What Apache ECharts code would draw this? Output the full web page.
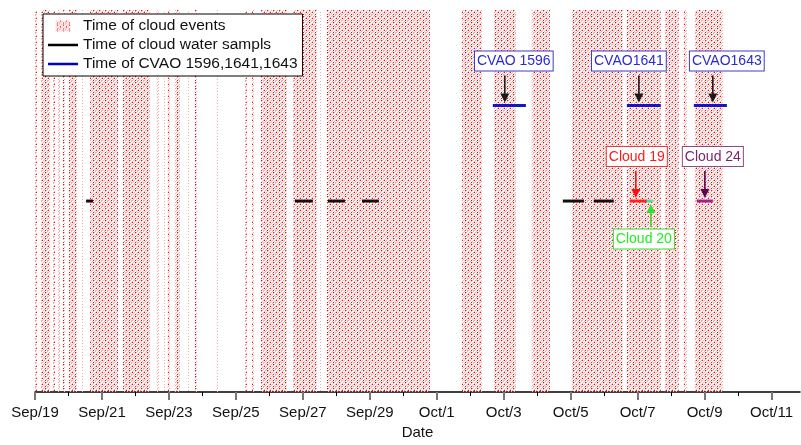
<!DOCTYPE html>
<html>
<head>
<meta charset="utf-8">
<script src="https://cdn.jsdelivr.net/npm/echarts@6/dist/echarts.min.js"></script>
<style>
  html, body { margin: 0; padding: 0; background: #fff; }
  #chart { width: 801px; height: 445px; }
</style>
</head>
<body>
<div id="chart"></div>
<script>
// ---- Data (2017 campaign, times in UTC, "MM-DD HH:mm") ----
const YEAR = 2017;

// Cloud events: start / end
const cloudEventStarts = [
  '09-19 00:00', '09-19 04:18', '09-19 12:54', '09-19 16:30', '09-19 20:06',
  '09-20 00:24', '09-20 09:42', '09-20 15:24', '09-21 15:06', '09-22 15:24',
  '09-22 20:24', '09-22 23:12', '09-23 04:18', '09-23 13:42', '09-23 18:42',
  '09-24 10:24', '09-25 06:30', '09-25 11:30', '09-25 18:00', '09-26 16:54',
  '09-27 12:18', '09-27 17:18', '10-01 18:00', '10-02 17:00', '10-03 20:12',
  '10-05 00:54', '10-06 16:18', '10-07 19:30', '10-08 09:06', '10-08 17:00'
];
const cloudEventEnds = [
  '09-19 01:24', '09-19 10:45', '09-19 14:18', '09-19 17:54', '09-19 21:30',
  '09-20 06:06', '09-20 10:24', '09-21 11:30', '09-22 10:24', '09-22 16:54',
  '09-22 21:12', '09-23 00:42', '09-23 07:54', '09-23 14:24', '09-23 20:06',
  '09-24 11:12', '09-25 07:54', '09-25 13:00', '09-26 12:36', '09-27 10:06',
  '09-27 13:00', '09-30 19:06', '10-02 08:24', '10-03 08:42', '10-04 09:06',
  '10-06 13:24', '10-07 16:36', '10-08 05:30', '10-08 11:18', '10-09 13:06'
];

// Cloud water samples
const sampleStarts = ['09-20 12:36', '09-26 18:18', '09-27 18:00', '09-28 18:24', '10-04 18:24', '10-05 16:36'];
const sampleEnds   = ['09-20 17:36', '09-27 07:12', '09-28 06:12', '09-29 06:30', '10-05 09:30', '10-06 06:54'];

// Highlighted cloud water samples
const namedSampleLabels = ['Cloud 19', 'Cloud 20', 'Cloud 24'];
const namedSampleStarts = ['10-06 18:24', '10-07 06:36', '10-08 18:24'];
const namedSampleEnds   = ['10-07 06:36', '10-07 10:54', '10-09 05:54'];

// CVAO sampling periods
const cvaoStarts = ['10-02 16:12', '10-06 16:18', '10-08 16:18'];
const cvaoEnds   = ['10-03 15:54', '10-07 16:36', '10-09 16:00'];

// Callouts: label, time pointed at, level pointed at
const calloutLabels = ['CVAO 1596', 'CVAO1641', 'CVAO1643', 'Cloud 19', 'Cloud 24', 'Cloud 20'];
const calloutTimes  = ['10-03 00:48', '10-07 00:54', '10-09 05:54', '10-06 22:42', '10-09 00:12', '10-07 09:30'];
const calloutLevels = [0.75, 0.75, 0.75, 0.5, 0.5, 0.5];

// Levels on the hidden y scale
const SAMPLE_LEVEL = 0.5;
const CVAO_LEVEL = 0.75;

// Axis range and ticks
const axisStart = '09-19 00:00';
const axisEnd = '10-11 20:24';
const labelDays = ['09-19', '09-21', '09-23', '09-25', '09-27', '09-29', '10-01', '10-03', '10-05', '10-07', '10-09', '10-11'];
const minorDays = ['09-20', '09-22', '09-24', '09-26', '09-28', '09-30', '10-02', '10-04', '10-06', '10-08', '10-10'];

// ---- Helpers ----
function ts(s) {
  const [d, hm] = s.split(' ');
  const [mo, da] = d.split('-').map(Number);
  const [h, m] = (hm || '00:00').split(':').map(Number);
  return Date.UTC(YEAR, mo - 1, da, h, m);
}
const MONTHS = ['Jan', 'Feb', 'Mar', 'Apr', 'May', 'Jun', 'Jul', 'Aug', 'Sep', 'Oct', 'Nov', 'Dec'];
function dayLabel(v) {
  const d = new Date(v);
  return MONTHS[d.getUTCMonth()] + '/' + d.getUTCDate();
}

// Red/pink dotted fill used for cloud events
function makeDotPattern() {
  const tile = [
    'R.P..P',
    '.P..P.',
    'P..R.P',
    '..P..P',
    '.P.RP.',
    'P..P..'
  ];
  const c = document.createElement('canvas');
  c.width = 6; c.height = 6;
  const g = c.getContext('2d');
  tile.forEach((row, y) => {
    for (let x = 0; x < row.length; x++) {
      if (row[x] === 'R') { g.fillStyle = '#ff0000'; g.fillRect(x, y, 1, 1); }
      if (row[x] === 'P') { g.fillStyle = '#ffa8a8'; g.fillRect(x, y, 1, 1); }
    }
  });
  return c;
}
const dotPattern = { image: makeDotPattern(), repeat: 'repeat' };

// Callout styling (offsets in px relative to the arrow)
const calloutStyle = {
  'CVAO 1596': { dx: 9,   side: 'above', text: '#2a2ad4', border: '#3b3bd0', arrow: '#1a1a1a' },
  'CVAO1641':  { dx: -10, side: 'above', text: '#2a2ad4', border: '#3b3bd0', arrow: '#1a1a1a' },
  'CVAO1643':  { dx: 14,  side: 'above', text: '#2a2ad4', border: '#3b3bd0', arrow: '#1a1a1a' },
  'Cloud 19':  { dx: 1,   side: 'above', text: '#ff1a1a', border: '#e23c3c', arrow: '#ff1010' },
  'Cloud 24':  { dx: 8,   side: 'above', text: '#7a2470', border: '#8a4a86', arrow: '#5a0652' },
  'Cloud 20':  { dx: -7,  side: 'below', text: '#22ee22', border: '#33dd33', arrow: '#33dd33' }
};
const segmentColors = { 'Cloud 19': '#ff2020', 'Cloud 20': '#44e0a0', 'Cloud 24': '#a0208c' };

// ---- Series data built from the arrays ----
const eventData = cloudEventStarts.map((s, i) => [ts(s), ts(cloudEventEnds[i])]);
const sampleData = sampleStarts.map((s, i) => [ts(s), ts(sampleEnds[i]), SAMPLE_LEVEL]);
const namedData = namedSampleStarts.map((s, i) => [ts(s), ts(namedSampleEnds[i]), SAMPLE_LEVEL, namedSampleLabels[i]]);
const cvaoData = cvaoStarts.map((s, i) => [ts(s), ts(cvaoEnds[i]), CVAO_LEVEL]);
const calloutData = calloutLabels.map((l, i) => [ts(calloutTimes[i]), calloutLevels[i], l]);

function renderBand(params, api) {
  const a = api.coord([api.value(0), 0]);
  const b = api.coord([api.value(1), 1]);
  const shape = echarts.graphic.clipRectByRect(
    { x: a[0], y: b[1], width: Math.max(b[0] - a[0], 1), height: a[1] - b[1] },
    { x: params.coordSys.x, y: params.coordSys.y, width: params.coordSys.width, height: params.coordSys.height }
  );
  return shape && { type: 'rect', shape: shape, style: { fill: dotPattern }, silent: true };
}

function segmentRenderer(colorFn, width) {
  return function (params, api) {
    const a = api.coord([api.value(0), api.value(2)]);
    const b = api.coord([api.value(1), api.value(2)]);
    return {
      type: 'line',
      shape: { x1: a[0], y1: a[1], x2: b[0], y2: b[1] },
      style: { stroke: colorFn(params.dataIndex), lineWidth: width }
    };
  };
}

function renderCallout(params, api) {
  const p = api.coord([api.value(0), api.value(1)]);
  const label = calloutData[params.dataIndex][2];
  const st = calloutStyle[label];
  const up = st.side === 'above';
  const dir = up ? -1 : 1;           // direction from the mark towards the box
  const tip = p[1] + dir * 3;
  const tail = p[1] + dir * (up ? 30 : 26);
  const headLen = 9, headHalf = 4.5;
  const base = tip + dir * headLen;
  const boxEdge = p[1] + dir * (up ? 35 : 28.5);
  return {
    type: 'group',
    children: [
      { type: 'line', shape: { x1: p[0], y1: tail, x2: p[0], y2: base - dir * 1 },
        style: { stroke: st.arrow, lineWidth: 1.6 } },
      { type: 'polygon', shape: { points: [[p[0], tip], [p[0] - headHalf, base], [p[0] + headHalf, base]] },
        style: { fill: st.arrow } },
      { type: 'text', x: p[0] + st.dx, y: boxEdge,
        style: {
          text: label, fill: st.text, fontFamily: 'Liberation Sans, Arial, sans-serif', fontSize: 14,
          align: 'center', verticalAlign: up ? 'bottom' : 'top', lineHeight: 16,
          backgroundColor: '#fff', borderColor: st.border, borderWidth: 1, padding: [2, 2, 1, 2]
        } }
    ]
  };
}

const chart = echarts.init(document.getElementById('chart'), null, { renderer: 'canvas' });
const FONT = 'Liberation Sans, Arial, sans-serif';
const DAY = 86400000;

chart.setOption({
  animation: false,
  backgroundColor: '#fff',
  grid: { left: 35, right: 1, top: 10, bottom: 50 },
  xAxis: [
    {
      type: 'value', min: ts(axisStart), max: ts(axisEnd), interval: 2 * DAY,
      name: 'Date', nameLocation: 'middle', nameGap: 32,
      nameTextStyle: { fontFamily: FONT, fontSize: 15, color: '#111' },
      axisLine: { show: true, onZero: false, lineStyle: { color: '#000', width: 1.5 } },
      axisTick: { show: true, length: 8, customValues: labelDays.map(d => ts(d)), lineStyle: { color: '#777', width: 2 } },
      axisLabel: { customValues: labelDays.map(d => ts(d)), formatter: dayLabel, margin: 13,
        fontFamily: FONT, fontSize: 15, color: '#111' },
      splitLine: { show: false }
    },
    {
      type: 'value', min: ts(axisStart), max: ts(axisEnd), position: 'bottom',
      axisLine: { show: false, onZero: false },
      axisTick: { show: true, length: 4, customValues: minorDays.map(d => ts(d)), lineStyle: { color: '#000', width: 1 } },
      axisLabel: { show: false },
      splitLine: { show: false }
    }
  ],
  yAxis: { type: 'value', min: 0, max: 1, show: false },
  legend: {
    orient: 'vertical', left: 43, top: 14,
    backgroundColor: '#fff', borderColor: '#000', borderWidth: 1,
    padding: [4, 5, 4, 5], itemGap: 3, itemWidth: 30, itemHeight: 11, itemTextGap: 7,
    textStyle: { fontFamily: FONT, fontSize: 15.5, color: '#111', lineHeight: 15 },
    data: [
      { name: 'Time of cloud events', icon: 'path://M0 0H15V11H0Z', itemStyle: { color: dotPattern } },
      { name: 'Time of cloud water sampls', icon: 'path://M0 0H30V2.5H0Z', itemStyle: { color: '#000' } },
      { name: 'Time of CVAO 1596,1641,1643', icon: 'path://M0 0H30V2.5H0Z', itemStyle: { color: '#0000cc' } }
    ]
  },
  series: [
    { name: 'Time of cloud events', type: 'custom', renderItem: renderBand, data: eventData,
      encode: { x: [0, 1] }, itemStyle: { color: '#ff8080' }, z: 1 },
    { name: 'Time of cloud water sampls', type: 'custom', data: sampleData, encode: { x: [0, 1], y: 2 },
      renderItem: segmentRenderer(() => '#111', 3), itemStyle: { color: '#000' }, z: 3 },
    { name: 'Highlighted samples', type: 'custom', data: namedData, encode: { x: [0, 1], y: 2 },
      renderItem: segmentRenderer(i => segmentColors[namedSampleLabels[i]], 3), z: 3 },
    { name: 'Time of CVAO 1596,1641,1643', type: 'custom', data: cvaoData, encode: { x: [0, 1], y: 2 },
      renderItem: segmentRenderer(() => '#1414c8', 3), itemStyle: { color: '#0000cc' }, z: 3 },
    { name: 'Callouts', type: 'custom', data: calloutData, encode: { x: 0, y: 1 },
      renderItem: renderCallout, z: 4 }
  ]
});
</script>
</body>
</html>
